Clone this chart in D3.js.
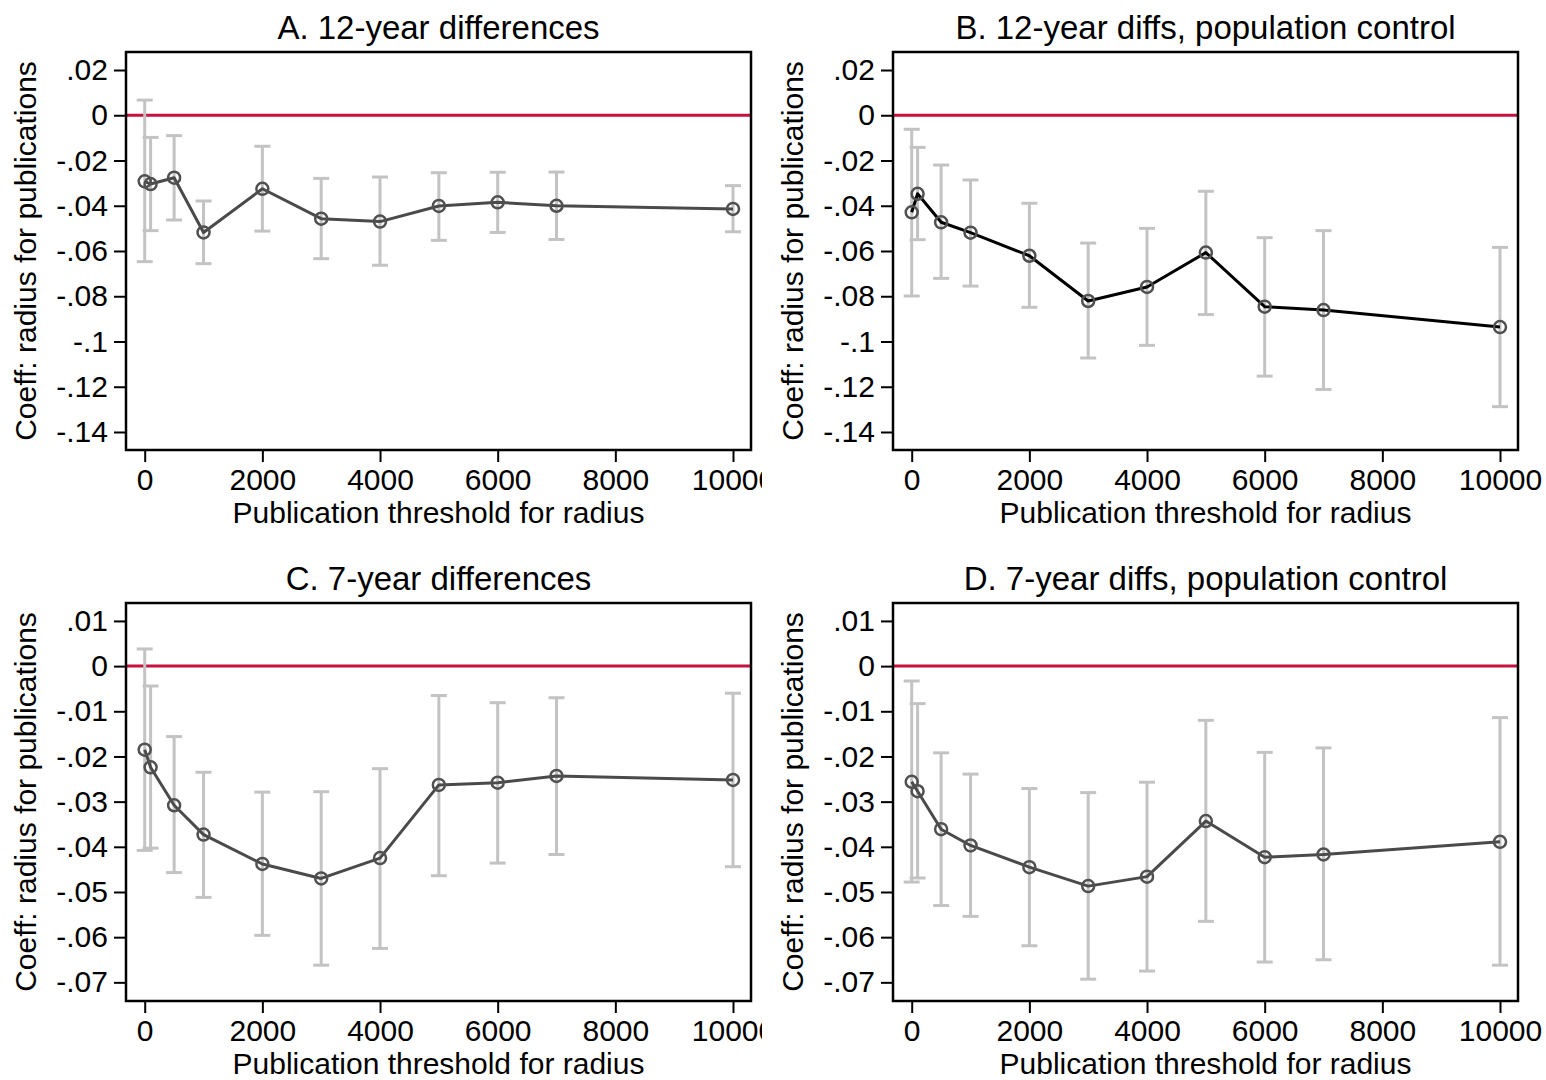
<!DOCTYPE html>
<html>
<head>
<meta charset="utf-8">
<script src="https://cdn.jsdelivr.net/npm/d3@7"></script>
<style>
  body { margin: 0; background: #fff; }
  svg text { font-family: "Liberation Sans", Arial, Helvetica, sans-serif; fill: #000; }
</style>
</head>
<body>
<svg id="chart"></svg>
<script>
// thresholds used for the radius (x axis)
const thresholds = [0, 100, 500, 1000, 2000, 3000, 4000, 5000, 6000, 7000, 10000];

// A. 12-year differences
const coefA = [-0.0292, -0.0304, -0.0276, -0.0518, -0.0325, -0.0457, -0.0470, -0.0401, -0.0385, -0.0400, -0.0414];
const ciLoA = [-0.0647, -0.0510, -0.0463, -0.0656, -0.0512, -0.0634, -0.0663, -0.0553, -0.0518, -0.0549, -0.0515];
const ciHiA = [0.0067, -0.0098, -0.0090, -0.0379, -0.0137, -0.0279, -0.0273, -0.0254, -0.0252, -0.0251, -0.0311];

// B. 12-year diffs, population control
const coefB = [-0.0429, -0.0347, -0.0473, -0.0519, -0.0621, -0.0821, -0.0759, -0.0607, -0.0846, -0.0861, -0.0936];
const ciLoB = [-0.0799, -0.0550, -0.0721, -0.0755, -0.0849, -0.1073, -0.1017, -0.0881, -0.1153, -0.1212, -0.1288];
const ciHiB = [-0.0062, -0.0142, -0.0220, -0.0286, -0.0389, -0.0565, -0.0500, -0.0336, -0.0541, -0.0510, -0.0584];

// C. 7-year differences
const coefC = [-0.0185, -0.0224, -0.0308, -0.0373, -0.0438, -0.0470, -0.0425, -0.0263, -0.0258, -0.0243, -0.0252];
const ciLoC = [-0.0408, -0.0403, -0.0457, -0.0512, -0.0596, -0.0662, -0.0625, -0.0464, -0.0436, -0.0417, -0.0444];
const ciHiC = [0.0038, -0.0044, -0.0156, -0.0235, -0.0279, -0.0278, -0.0227, -0.0065, -0.0081, -0.0070, -0.0060];

// D. 7-year diffs, population control
const coefD = [-0.0256, -0.0277, -0.0361, -0.0397, -0.0445, -0.0487, -0.0466, -0.0343, -0.0423, -0.0417, -0.0389];
const ciLoD = [-0.0478, -0.0469, -0.0530, -0.0554, -0.0619, -0.0693, -0.0675, -0.0565, -0.0655, -0.0650, -0.0662];
const ciHiD = [-0.0033, -0.0083, -0.0192, -0.0239, -0.0271, -0.0280, -0.0257, -0.0120, -0.0191, -0.0181, -0.0114];

// axis ticks
const xTicks = [0, 2000, 4000, 6000, 8000, 10000];
const yTicks12 = [0.02, 0, -0.02, -0.04, -0.06, -0.08, -0.1, -0.12, -0.14];
const yLabels12 = ['.02', '0', '-.02', '-.04', '-.06', '-.08', '-.1', '-.12', '-.14'];
const yTicks7 = [0.01, 0, -0.01, -0.02, -0.03, -0.04, -0.05, -0.06, -0.07];
const yLabels7 = ['.01', '0', '-.01', '-.02', '-.03', '-.04', '-.05', '-.06', '-.07'];

const titles = ['A. 12-year differences', 'B. 12-year diffs, population control',
                'C. 7-year differences', 'D. 7-year diffs, population control'];
const xTitle = 'Publication threshold for radius';
const yTitle = 'Coeff: radius for publications';

const W = 1546, H = 1080;
const svg = d3.select('#chart').attr('width', W).attr('height', H);

const frameW = 625, frameH = 398;
const xDomain = [-318, 10306];

const panels = [
    { title: titles[0], coef: coefA, lo: ciLoA, hi: ciHiA, left: 126, top: 52, yDomain: [-0.14796, 0.02796], yTicks: yTicks12, yLabels: yLabels12, line: '#4a4a4a', clipRight: 762 },
    { title: titles[1], coef: coefB, lo: ciLoB, hi: ciHiB, left: 893, top: 52, yDomain: [-0.14796, 0.02796], yTicks: yTicks12, yLabels: yLabels12, line: '#000', clipRight: W },
    { title: titles[2], coef: coefC, lo: ciLoC, hi: ciHiC, left: 126, top: 603, yDomain: [-0.07413, 0.01397], yTicks: yTicks7, yLabels: yLabels7, line: '#4a4a4a', clipRight: 762 },
    { title: titles[3], coef: coefD, lo: ciLoD, hi: ciHiD, left: 893, top: 603, yDomain: [-0.07413, 0.01397], yTicks: yTicks7, yLabels: yLabels7, line: '#4a4a4a', clipRight: W }
];

panels.forEach((p, i) => {
    // each cell of the combined graph clips its own content (cuts the last tick label in A and C)
    const clipId = 'cell' + i;
    const cellLeft = p.left - 130;
    svg.append('clipPath').attr('id', clipId)
        .append('rect')
        .attr('x', cellLeft).attr('y', p.top - 60)
        .attr('width', p.clipRight - cellLeft).attr('height', frameH + 150);

    const g = svg.append('g').attr('clip-path', `url(#${clipId})`);

    const x = d3.scaleLinear().domain(xDomain).range([p.left, p.left + frameW]);
    const y = d3.scaleLinear().domain(p.yDomain).range([p.top + frameH, p.top]);

    // title
    g.append('text')
        .attr('x', p.left + frameW / 2).attr('y', p.top - 13)
        .attr('text-anchor', 'middle')
        .style('font-size', '33px')
        .text(p.title);

    // y axis
    const yAxis = d3.axisLeft(y)
        .tickValues(p.yTicks)
        .tickFormat((d, k) => p.yLabels[k])
        .tickSize(12).tickPadding(6);
    const gy = g.append('g').attr('transform', `translate(${p.left},0)`).call(yAxis);
    gy.select('.domain').remove();
    gy.selectAll('.tick line').attr('stroke', '#000').attr('stroke-width', 2);
    gy.selectAll('.tick text').style('font-size', '30px').attr('fill', '#000');

    // x axis
    const xAxis = d3.axisBottom(x).tickValues(xTicks).tickFormat(d3.format('d'))
        .tickSize(12).tickPadding(7);
    const gx = g.append('g').attr('transform', `translate(0,${p.top + frameH})`).call(xAxis);
    gx.select('.domain').remove();
    gx.selectAll('.tick line').attr('stroke', '#000').attr('stroke-width', 2);
    gx.selectAll('.tick text').style('font-size', '30px').attr('fill', '#000');

    // axis titles
    g.append('text')
        .attr('x', p.left + frameW / 2).attr('y', p.top + frameH + 73)
        .attr('text-anchor', 'middle')
        .style('font-size', '30px')
        .text(xTitle);
    g.append('text')
        .attr('transform', `translate(${p.left - 90},${p.top + frameH / 2}) rotate(-90)`)
        .attr('text-anchor', 'middle')
        .style('font-size', '30px')
        .text(yTitle);

    // zero reference line
    g.append('line')
        .attr('x1', p.left).attr('x2', p.left + frameW)
        .attr('y1', y(0)).attr('y2', y(0))
        .attr('stroke', '#c8103e').attr('stroke-width', 3);

    const rows = thresholds.map((t, k) => ({ t, c: p.coef[k], lo: p.lo[k], hi: p.hi[k] }));

    // confidence intervals
    const ci = g.append('g').attr('stroke', '#c3c3c3').attr('stroke-width', 3).attr('fill', 'none');
    ci.selectAll('.bar').data(rows).enter().append('line')
        .attr('x1', d => x(d.t)).attr('x2', d => x(d.t))
        .attr('y1', d => y(d.lo)).attr('y2', d => y(d.hi));
    ci.selectAll('.capHi').data(rows).enter().append('line')
        .attr('x1', d => x(d.t) - 8).attr('x2', d => x(d.t) + 8)
        .attr('y1', d => y(d.hi)).attr('y2', d => y(d.hi));
    ci.selectAll('.capLo').data(rows).enter().append('line')
        .attr('x1', d => x(d.t) - 8).attr('x2', d => x(d.t) + 8)
        .attr('y1', d => y(d.lo)).attr('y2', d => y(d.lo));

    // connected point estimates
    const line = d3.line().x(d => x(d.t)).y(d => y(d.c));
    g.append('path').datum(rows)
        .attr('d', line)
        .attr('fill', 'none')
        .attr('stroke', p.line)
        .attr('stroke-width', 3)
        .attr('stroke-linejoin', 'round');

    g.selectAll('.pt').data(rows).enter().append('circle')
        .attr('cx', d => x(d.t)).attr('cy', d => y(d.c))
        .attr('r', 6)
        .attr('fill', 'none')
        .attr('stroke', '#505050')
        .attr('stroke-width', 2.5);

    // plot frame
    g.append('rect')
        .attr('x', p.left).attr('y', p.top)
        .attr('width', frameW).attr('height', frameH)
        .attr('fill', 'none').attr('stroke', '#000').attr('stroke-width', 2.5);
});
</script>
</body>
</html>
